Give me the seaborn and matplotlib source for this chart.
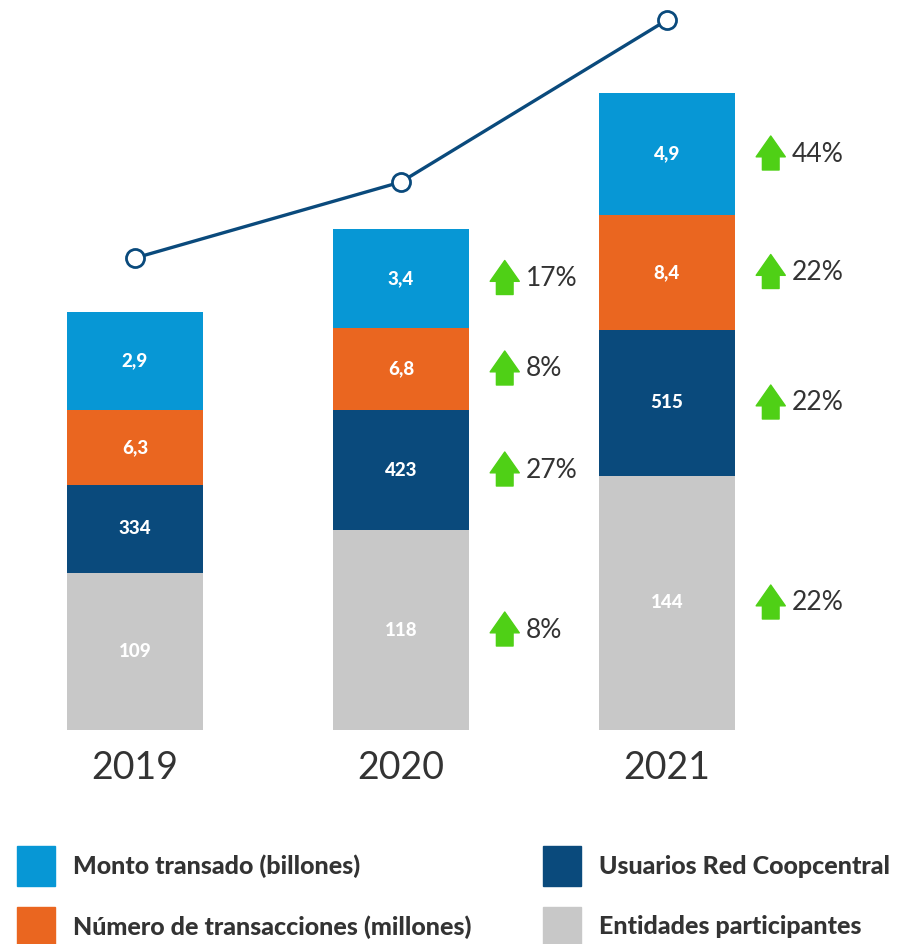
import numpy as np
import pandas as pd
import matplotlib
matplotlib.use('Agg')
import matplotlib.pyplot as plt
import seaborn as sns

years = ['2019', '2020', '2021']

# values shown inside the segments
monto = ['2,9', '3,4', '4,9']
transacciones = ['6,3', '6,8', '8,4']
usuarios = ['334', '423', '515']
entidades = ['109', '118', '144']

# drawn segment heights (infographic scale)
h_monto = [98, 99, 122]
h_trans = [75, 82, 115]
h_usuarios = [88, 120, 146]
h_entidades = [157, 200, 254]

# trend line on top (same drawn scale)
line_vals = [472, 548, 710]

# growth vs previous year, per segment (2020, 2021)
growth_monto = ['17%', '44%']
growth_trans = ['8%', '22%']
growth_usuarios = ['27%', '22%']
growth_entidades = ['8%', '22%']

c_monto = '#0797d5'
c_trans = '#ea6620'
c_usuarios = '#0a4a7c'
c_entidades = '#c8c8c8'
c_green = '#4fd016'
c_text = '#333333'

sns.set_theme(style='white')
plt.rcParams['font.family'] = ['Lato', 'DejaVu Sans']

fig = plt.figure(figsize=(9.04, 9.44), dpi=100)
ax = fig.add_axes([0, 0, 1, 1])

df = pd.DataFrame({'year': years, 'monto': h_monto, 'trans': h_trans,
                   'usuarios': h_usuarios, 'entidades': h_entidades})
df['top_ent'] = df['entidades']
df['top_usu'] = df['top_ent'] + df['usuarios']
df['top_tr'] = df['top_usu'] + df['trans']
df['top_mo'] = df['top_tr'] + df['monto']

w = 0.508
for col, c in [('top_mo', c_monto), ('top_tr', c_trans),
               ('top_usu', c_usuarios), ('top_ent', c_entidades)]:
    sns.barplot(data=df, x='year', y=col, color=c, width=w, saturation=1,
                ax=ax, linewidth=0)

sns.lineplot(x=[0, 1, 2], y=line_vals, color=c_usuarios, linewidth=2.4,
             marker='o', markersize=13, markerfacecolor='white',
             markeredgecolor=c_usuarios, markeredgewidth=2, ax=ax, zorder=5)

ax.set_xlim(-135 / 266, (904 - 135) / 266)
ax.set_ylim(-214, 730)
ax.axis('off')

segs = [(monto, 'top_mo', 'monto', growth_monto),
        (transacciones, 'top_tr', 'trans', growth_trans),
        (usuarios, 'top_usu', 'usuarios', growth_usuarios),
        (entidades, 'top_ent', 'entidades', growth_entidades)]

for labels, topcol, hcol, growth in segs:
    for i in range(3):
        yc = df[topcol][i] - df[hcol][i] / 2
        ax.text(i, yc, labels[i], ha='center', va='center', color='white',
                fontsize=13.5, fontweight='black')
        if i > 0:
            g = growth[i - 1]
            ax.annotate('', xy=(i + 0.39, yc + 18), xytext=(i + 0.39, yc - 16),
                        arrowprops=dict(arrowstyle='simple,head_width=1.05,head_length=0.75,tail_width=0.6',
                                        color=c_green, mutation_scale=20,
                                        shrinkA=0, shrinkB=0))
            ax.text(i + 0.47, yc, g, ha='left', va='center', color=c_text,
                    fontsize=19)

for i, y in enumerate(years):
    ax.text(i, -38, y, ha='center', va='center', color=c_text, fontsize=27)

# legend
legend_items = [('Monto transado (billones)', c_monto, 17, 866),
                ('Número de transacciones (millones)', c_trans, 17, 927),
                ('Usuarios Red Coopcentral', c_usuarios, 543, 866),
                ('Entidades participantes', c_entidades, 543, 927)]
for txt, c, xpx, ypx in legend_items:
    fig.patches.append(plt.Rectangle((xpx / 904, 1 - (ypx + 20) / 944), 38 / 904, 40 / 944,
                                     transform=fig.transFigure, color=c))
    fig.text((xpx + 56) / 904, 1 - ypx / 944, txt, ha='left', va='center',
             color=c_text, fontsize=18, fontweight='black')

fig.savefig('out.png', dpi=100, facecolor='white')
